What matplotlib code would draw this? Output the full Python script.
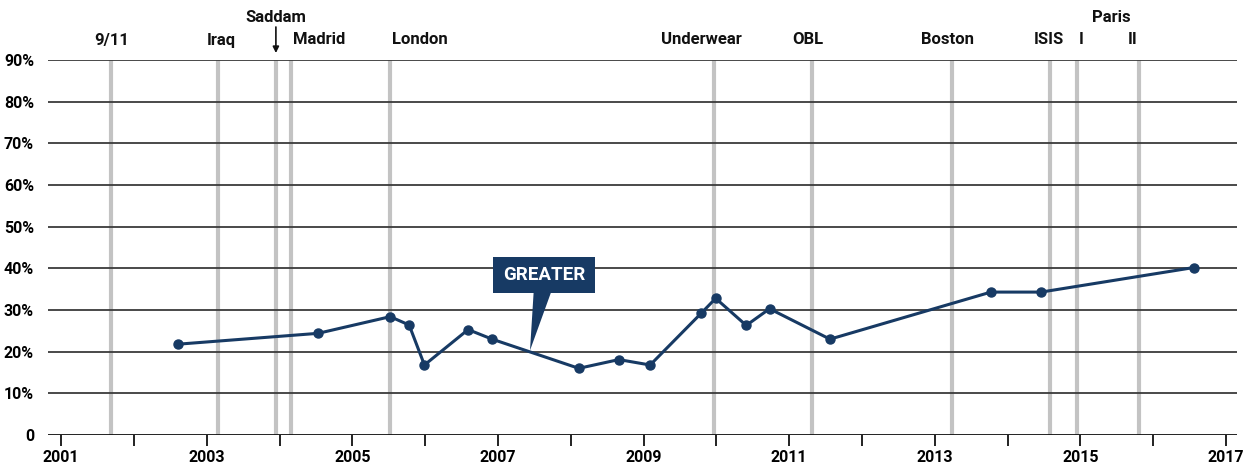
import numpy as np
import matplotlib.pyplot as plt
from matplotlib.patches import Polygon
from matplotlib.transforms import blended_transform_factory

plt.rcParams['font.family'] = ['Roboto', 'DejaVu Sans']
plt.rcParams['font.weight'] = 'bold'

# Data
years = [2002.61, 2004.53, 2005.52, 2005.78, 2005.99, 2006.59, 2006.92,
         2008.11, 2008.66, 2009.09, 2009.79, 2009.99, 2010.41, 2010.73,
         2011.56, 2013.77, 2014.46, 2016.56]
values = [21.8, 24.4, 28.4, 26.4, 16.8, 25.3, 23.0,
          16.0, 18.1, 16.8, 29.2, 32.8, 26.3, 30.3,
          23.0, 34.3, 34.3, 40.2]

# Events
event_names = ['9/11', 'Iraq', 'Saddam', 'Madrid', 'London', 'Underwear',
               'OBL', 'Boston', 'ISIS', 'I', 'II']
event_years = [2001.69, 2003.15, 2003.95, 2004.16, 2005.52, 2009.97,
               2011.31, 2013.24, 2014.58, 2014.95, 2015.80]

y_ticks = [0, 10, 20, 30, 40, 50, 60, 70, 80, 90]
y_labels = ['0'] + [f'{v}%' for v in y_ticks[1:]]
x_ticks = list(range(2001, 2018))
x_labels = [str(y) if (y - 2001) % 2 == 0 else '' for y in x_ticks]

NAVY = '#173a64'

fig = plt.figure(figsize=(12.56, 4.68), dpi=100)
ax = fig.add_axes([48/1256, 1 - 435/468, (1237 - 48)/1256, (435 - 60)/468])

ax.set_xlim(2000.82, 2017.15)
ax.set_ylim(0, 90)

# event lines
for ey in event_years:
    ax.axvline(ey, color='#c3c3c3', lw=3, zorder=1)

# horizontal gridlines
for yv in y_ticks:
    ax.axhline(yv, color='#3a3a3a' if yv else '#111111', lw=1.3, zorder=2)

ax.plot(years, values, color=NAVY, lw=2.2, marker='o', ms=6.5, zorder=4)

for s in ax.spines.values():
    s.set_visible(False)

ax.set_yticks(y_ticks)
ax.set_yticklabels(y_labels, fontsize=11.5, fontweight='bold')
ax.tick_params(axis='y', length=0, pad=10)
ax.set_xticks(x_ticks)
ax.set_xticklabels(x_labels, fontsize=11.5, fontweight='bold')
ax.tick_params(axis='x', length=8, width=1.3, color='#111111', pad=3, direction='out')

# event labels
tr = blended_transform_factory(ax.transData, fig.transFigure)
label_style = dict(fontsize=12, fontweight='bold', color='#111111', va='center', transform=tr)
y_row = 1 - 40/468
y_top = 1 - 17/468
offsets = {'9/11': 0, 'Iraq': 0.05, 'Madrid': 0.02, 'London': 0.02,
           'Underwear': -0.17, 'OBL': -0.05, 'Boston': -0.07, 'ISIS': -0.02,
           'I': 0.06, 'II': -0.08}
for name, ey in zip(event_names, event_years):
    if name == 'Saddam':
        ax.text(ey, y_top, name, ha='center', **label_style)
        ax.annotate('', xy=(ey, 1 - 53/468), xytext=(ey, 1 - 27/468),
                    xycoords=tr, textcoords=tr,
                    arrowprops=dict(arrowstyle='-|>', color='#111111', lw=1.2,
                                    mutation_scale=9, shrinkA=0, shrinkB=0))
        continue
    ha = 'left' if name in ('Madrid', 'London') else 'center'
    ax.text(ey + offsets[name], y_row, name, ha=ha, **label_style)
ax.text((event_years[-2] + event_years[-1]) / 2 + 0.05, y_top, 'Paris',
        ha='center', **label_style)

# GREATER callout
tip = (2007.44, 20.3)
box_x0, box_x1, box_y0, box_y1 = 2006.93, 2008.33, 34.1, 42.7
ax.add_patch(Polygon([(box_x0, box_y0), (box_x1, box_y0), (box_x1, box_y1),
                      (box_x0, box_y1)], closed=True, fc=NAVY, ec='none', zorder=5))
ax.add_patch(Polygon([(2007.49, box_y0 + 0.2), (2007.73, box_y0 + 0.2), tip],
                     closed=True, fc=NAVY, ec='none', zorder=5))
ax.text((box_x0 + box_x1) / 2, (box_y0 + box_y1) / 2, 'GREATER', color='white',
        fontsize=13.5, fontweight='bold', ha='center', va='center', zorder=6)

fig.savefig('out.png', dpi=100)
